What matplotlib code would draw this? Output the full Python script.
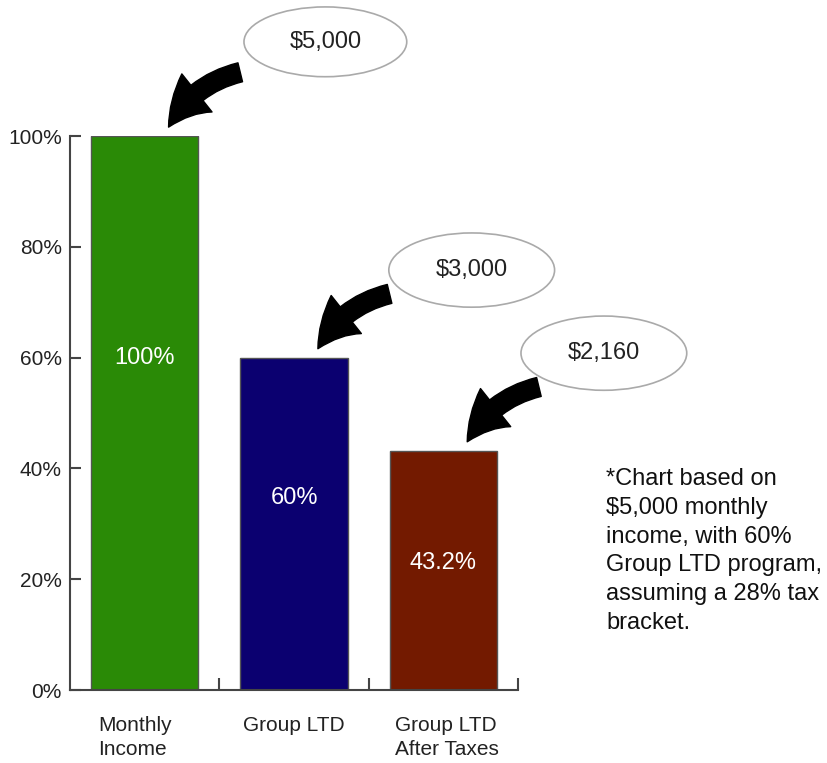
import matplotlib
matplotlib.use("Agg")
import matplotlib.pyplot as plt
from matplotlib.patches import Ellipse, FancyArrowPatch, ArrowStyle
from matplotlib.transforms import ScaledTranslation

categories = ["Monthly\nIncome", "Group LTD", "Group LTD\nAfter Taxes"]
values = [100, 60, 43.2]
bar_labels = ["100%", "60%", "43.2%"]
label_heights = [60.0, 34.6, 23.0]
dollar_labels = ["$5,000", "$3,000", "$2,160"]
colors = ["#2a8a06", "#0b0070", "#731a00"]
yticks = [0, 20, 40, 60, 80, 100]
ytick_labels = ["0%", "20%", "40%", "60%", "80%", "100%"]
note = ("*Chart based on\n$5,000 monthly\nincome, with 60%\nGroup LTD program,\n"
        "assuming a 28% tax\nbracket.")

plt.rcParams['font.family'] = ['Liberation Sans', 'DejaVu Sans']

fig = plt.figure(figsize=(8.27, 7.63), dpi=100)
ax = fig.add_axes([70/827, 1-690/763, 448/827, 554/763])

x = list(range(len(values)))
ax.bar(x, values, width=0.72, color=colors, edgecolor="#555555", linewidth=1.0, zorder=2)
ax.set_xlim(-0.5, 2.5)
ax.set_ylim(0, 100)

for s in ["top", "right"]:
    ax.spines[s].set_visible(False)
for s in ["left", "bottom"]:
    ax.spines[s].set_color("#444444")
    ax.spines[s].set_linewidth(1.5)

ax.set_yticks(yticks)
ax.set_yticklabels(ytick_labels, fontsize=15, color="#222222")
ax.tick_params(axis="y", direction="in", length=8, width=1.5, color="#444444", pad=6)

ax.set_xticks(x)
ax.set_xticklabels(categories, fontsize=15, color="#222222", multialignment="left",
                   linespacing=1.3)
ax.tick_params(axis="x", which="major", length=0, pad=19)
ax.set_xticks([0.5, 1.5, 2.5], minor=True)
ax.tick_params(axis="x", which="minor", direction="in", length=9, width=1.5, color="#444444")
lbls = ax.get_xticklabels()
lbls[0].set_transform(lbls[0].get_transform() + ScaledTranslation(-0.10, 0, fig.dpi_scale_trans))
lbls[2].set_transform(lbls[2].get_transform() + ScaledTranslation(0.04, 0, fig.dpi_scale_trans))

for xi, lab, h in zip(x, bar_labels, label_heights):
    ax.text(xi, h, lab, ha="center", va="center", color="white", fontsize=17, zorder=3)

# callout ellipses and curved arrows
ell_offsets = [(1.21, 17.0), (1.19, 15.8), (1.075, 17.6)]
ell_size = [(1.09, 12.6), (1.11, 13.4), (1.11, 13.4)]
style = ArrowStyle("Simple", head_length=32, head_width=35, tail_width=14)
for xi, v, lab, (ox, oy), (w, h) in zip(x, values, dollar_labels, ell_offsets, ell_size):
    cx, cy = xi + ox, v + oy
    e = Ellipse((cx, cy), w, h, facecolor="white", edgecolor="#aaaaaa", linewidth=1.2,
                clip_on=False, zorder=4)
    ax.add_patch(e)
    ax.text(cx, cy, lab, ha="center", va="center", fontsize=17, color="#222222",
            zorder=5, clip_on=False)
    arr = FancyArrowPatch((xi + 0.64, v + 11.5), (xi + 0.16, v + 1.6),
                          arrowstyle=style, connectionstyle="arc3,rad=0.22",
                          color="black", clip_on=False, zorder=5,
                          shrinkA=0, shrinkB=0, mutation_scale=1)
    ax.add_patch(arr)

fig.text(606/827, 1-468/763, note, ha="left", va="top", fontsize=17, color="#111111",
         linespacing=1.4)

fig.savefig("out.png", dpi=100, facecolor="white")
